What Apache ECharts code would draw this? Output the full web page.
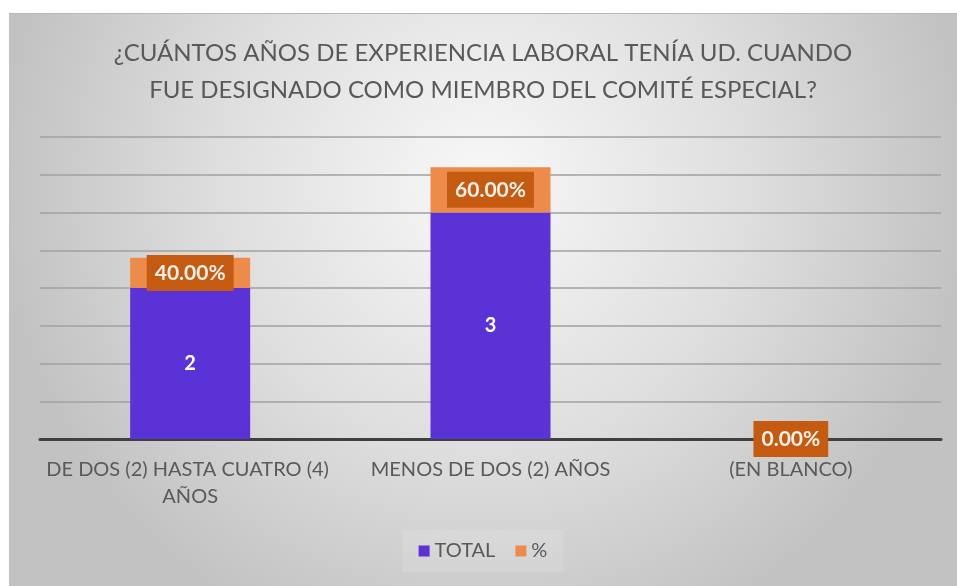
<!DOCTYPE html>
<html>
<head>
<meta charset="utf-8">
<script src="https://cdn.jsdelivr.net/npm/echarts@6/dist/echarts.min.js"></script>
<style>
  html, body { margin: 0; padding: 0; background: #ffffff; }
  #chart { position: absolute; left: 9px; top: 13px; width: 948px; height: 573px; border-top: 1px solid #b8b8b8; box-sizing: border-box; }
</style>
</head>
<body>
<div id="chart"></div>
<script>
// datos del gráfico
const categories = ['DE DOS (2) HASTA CUATRO (4) AÑOS', 'MENOS DE DOS (2) AÑOS', '(EN BLANCO)'];
const totalValues = [2, 3, 0];
const pctValues = [0.4, 0.6, 0]; // 40%, 60%, 0%

const fontName = 'Lato, "Open Sans", sans-serif';
const textGray = '#595959';

const chart = echarts.init(document.getElementById('chart'));

const option = {
  backgroundColor: new echarts.graphic.RadialGradient(0.5, 0.3, 0.85, [
    { offset: 0, color: '#f8f8f8' },
    { offset: 0.55, color: '#dedede' },
    { offset: 1, color: '#c2c2c2' }
  ]),
  textStyle: { fontFamily: fontName },
  title: {
    text: '¿CUÁNTOS AÑOS DE EXPERIENCIA LABORAL TENÍA UD. CUANDO\nFUE DESIGNADO COMO MIEMBRO DEL COMITÉ ESPECIAL?',
    left: 'center',
    top: 21,
    padding: 0,
    textStyle: {
      fontFamily: fontName,
      fontSize: 24,
      fontWeight: 'normal',
      color: textGray,
      lineHeight: 37
    }
  },
  legend: {
    data: ['TOTAL', '%'],
    bottom: 14,
    left: 'center',
    icon: 'rect',
    itemWidth: 11,
    itemHeight: 11,
    itemGap: 20,
    padding: [11, 16],
    backgroundColor: 'rgba(255,255,255,0.12)',
    textStyle: { fontFamily: fontName, fontSize: 20, color: textGray }
  },
  grid: { left: 31, right: 16, top: 123, bottom: 147 },
  xAxis: {
    type: 'category',
    data: categories,
    axisTick: { show: false },
    axisLine: { lineStyle: { color: '#404040', width: 3 } },
    axisLabel: {
      fontFamily: fontName,
      fontSize: 20,
      color: textGray,
      margin: 17,
      lineHeight: 27,
      width: 300,
      overflow: 'break',
      interval: 0
    }
  },
  yAxis: {
    type: 'value',
    min: 0,
    max: 4,
    interval: 0.5,
    axisLabel: { show: false },
    axisLine: { show: false },
    axisTick: { show: false },
    splitLine: { lineStyle: { color: '#a0a0a0', width: 1.5 } }
  },
  series: [
    {
      name: 'TOTAL',
      type: 'bar',
      stack: 'total',
      barWidth: 120,
      data: totalValues,
      itemStyle: { color: '#5a32d6' },
      label: {
        show: true,
        position: 'inside',
        fontFamily: fontName,
        fontSize: 20,
        fontWeight: 'bold',
        color: '#ffffff',
        formatter: p => (p.value ? String(p.value) : '')
      }
    },
    {
      name: '%',
      type: 'bar',
      stack: 'total',
      barWidth: 120,
      data: pctValues,
      itemStyle: { color: '#ed8b4b' },
      label: {
        show: true,
        position: 'inside',
        fontFamily: fontName,
        fontSize: 21,
        fontWeight: 'bold',
        color: '#f6f0ea',
        backgroundColor: '#c55a11',
        padding: [8, 8, 7, 8],
        formatter: p => (p.value * 100).toFixed(2) + '%'
      }
    }
  ]
};

chart.setOption(option);
</script>
</body>
</html>
